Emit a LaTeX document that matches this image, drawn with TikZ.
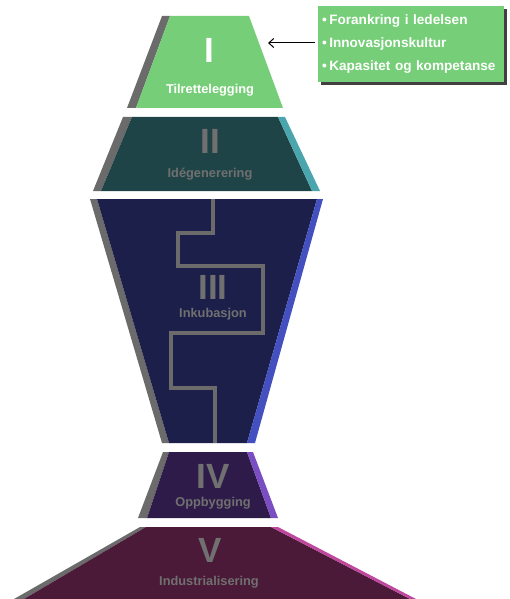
\documentclass[tikz,border=0pt]{standalone}
\usepackage{fontspec}
\setmainfont{Liberation Sans}
\usetikzlibrary{positioning,shadows,arrows.meta}

\definecolor{tilgreen}{HTML}{76CF78}
\definecolor{edgegray}{HTML}{6B6B6B}
\definecolor{idedark}{HTML}{1F4447}
\definecolor{idetone}{HTML}{4BA5AD}
\definecolor{inkdark}{HTML}{1B1F4A}
\definecolor{inktone}{HTML}{4450BF}
\definecolor{oppdark}{HTML}{2F1B4A}
\definecolor{opptone}{HTML}{7A4DC2}
\definecolor{inddark}{HTML}{4A1A38}
\definecolor{indtone}{HTML}{C0479E}
\definecolor{labelgray}{HTML}{707070}

\begin{document}
\begin{tikzpicture}[x=1pt,y=-1pt,
    numeral/.style={inner sep=0pt, text=labelgray, font=\bfseries\fontsize{35}{35}\selectfont},
    caption/.style={inner sep=0pt, text=labelgray, font=\bfseries\fontsize{12.8}{12.8}\selectfont},
    infobox/.style={fill=tilgreen, text=white, align=left, inner xsep=4pt, inner ysep=0pt,
      text width=178pt, minimum height=76pt,
      font=\bfseries\fontsize{13.6}{23}\selectfont,
      drop shadow={shadow xshift=3pt, shadow yshift=-3pt, fill=black!75, opacity=1}}]
  \useasboundingbox (0,0) rectangle (510,599);

  % I
  \fill[edgegray] (162,16) -- (170,16) -- (136,108) -- (127,108) -- cycle;
  \fill[tilgreen] (170,16) -- (249,16) -- (283,108) -- (136,108) -- cycle;
  % II
  \fill[edgegray] (123,117) -- (132,117) -- (101,191) -- (93,191) -- cycle;
  \fill[idedark] (132,117) -- (278,117) -- (312,191) -- (101,191) -- cycle;
  \fill[idetone] (278,117) -- (285,117) -- (320,191) -- (312,191) -- cycle;
  % III
  \fill[edgegray] (90,199) -- (97,199) -- (169,443) -- (162,443) -- cycle;
  \fill[inkdark] (97,199) -- (317,199) -- (247,443) -- (169,443) -- cycle;
  \fill[inktone] (317,199) -- (323,199) -- (255,443) -- (247,443) -- cycle;
  \draw[edgegray, line width=4.5pt] (213,199) -- (213,233) -- (178,233) -- (178,266)
    -- (263,266) -- (263,333) -- (171,333) -- (171,388) -- (215,388) -- (215,443);
  % IV
  \fill[edgegray] (163,452) -- (169,452) -- (147,518) -- (138,518) -- cycle;
  \fill[oppdark] (169,452) -- (247,452) -- (271,518) -- (147,518) -- cycle;
  \fill[opptone] (247,452) -- (253,452) -- (278,518) -- (271,518) -- cycle;
  % V
  \fill[edgegray] (140,527) -- (146,527) -- (24,599) -- (14,599) -- cycle;
  \fill[inddark] (146,527) -- (271,527) -- (410,599) -- (24,599) -- cycle;
  \fill[indtone] (271,527) -- (278,527) -- (416,599) -- (410,599) -- cycle;

  \node[numeral, text=white] (n1) at (209,50) {I};
  \node[caption, text=white] (c1) at (210,90) {Tilrettelegging};
  \node[numeral] (n2) at (210,141) {II};
  \node[caption] (c2) at (210,174) {Idégenerering};
  \node[numeral] (n3) at (213,287) {III};
  \node[caption] (c3) at (213,314) {Inkubasjon};
  \node[numeral] (n4) at (213,476) {IV};
  \node[caption] (c4) at (213,503) {Oppbygging};
  \node[numeral] (n5) at (210,550) {V};
  \node[caption] (c5) at (209,582) {Industrialisering};

  \node[infobox] (tiltak) at (411,44)
    {\textbullet\hspace{2.5pt}Forankring i ledelsen\\
     \textbullet\hspace{2.5pt}Innovasjonskultur\\
     \textbullet\hspace{2.5pt}Kapasitet og kompetanse};
  \coordinate (pil) at (268,43);
  \draw[-{Straight Barb[length=5pt,width=9pt]}, line width=1pt, shorten <=3pt]
    (tiltak.west |- pil) -- (pil);
\end{tikzpicture}
\end{document}
